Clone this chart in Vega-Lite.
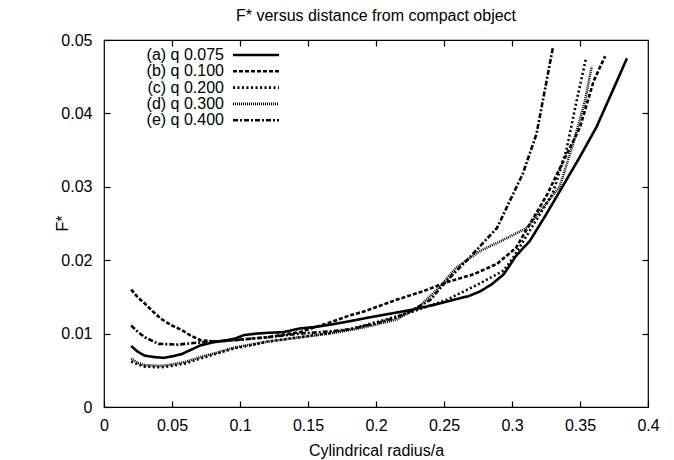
{
  "$schema": "https://vega.github.io/schema/vega-lite/v6.json",
  "autosize": "none",
  "width": 544,
  "height": 367,
  "padding": {"left": 104, "top": 40, "right": 26, "bottom": 53},
  "background": "white",
  "title": {"text": "F* versus distance from compact object", "font": "Liberation Sans", "fontSize": 16, "fontWeight": "normal", "color": "black", "offset": 8},
  "config": {
    "view": {"stroke": "black", "strokeWidth": 1.2},
    "axis": {"labelFont": "Liberation Sans", "titleFont": "Liberation Sans", "labelFontSize": 16, "titleFontSize": 16, "titleFontWeight": "normal", "labelColor": "black", "titleColor": "black", "tickColor": "black", "grid": false, "domain": false, "tickSize": -6, "tickWidth": 1.2},
    "legend": {"labelFont": "Liberation Sans", "labelFontSize": 16, "labelColor": "black"}
  },
  "data": {"values": [
    {"series": "(a) q 0.075", "x": 0.020, "y": 0.0083},
    {"series": "(a) q 0.075", "x": 0.025, "y": 0.0075},
    {"series": "(a) q 0.075", "x": 0.030, "y": 0.0070},
    {"series": "(a) q 0.075", "x": 0.037, "y": 0.0068},
    {"series": "(a) q 0.075", "x": 0.044, "y": 0.0067},
    {"series": "(a) q 0.075", "x": 0.050, "y": 0.0069},
    {"series": "(a) q 0.075", "x": 0.057, "y": 0.0072},
    {"series": "(a) q 0.075", "x": 0.064, "y": 0.0078},
    {"series": "(a) q 0.075", "x": 0.071, "y": 0.0084},
    {"series": "(a) q 0.075", "x": 0.080, "y": 0.0088},
    {"series": "(a) q 0.075", "x": 0.090, "y": 0.0091},
    {"series": "(a) q 0.075", "x": 0.096, "y": 0.0093},
    {"series": "(a) q 0.075", "x": 0.103, "y": 0.0098},
    {"series": "(a) q 0.075", "x": 0.112, "y": 0.0100},
    {"series": "(a) q 0.075", "x": 0.120, "y": 0.0101},
    {"series": "(a) q 0.075", "x": 0.132, "y": 0.0102},
    {"series": "(a) q 0.075", "x": 0.144, "y": 0.0107},
    {"series": "(a) q 0.075", "x": 0.155, "y": 0.0109},
    {"series": "(a) q 0.075", "x": 0.166, "y": 0.0112},
    {"series": "(a) q 0.075", "x": 0.181, "y": 0.0117},
    {"series": "(a) q 0.075", "x": 0.195, "y": 0.0122},
    {"series": "(a) q 0.075", "x": 0.210, "y": 0.0127},
    {"series": "(a) q 0.075", "x": 0.225, "y": 0.0132},
    {"series": "(a) q 0.075", "x": 0.240, "y": 0.0138},
    {"series": "(a) q 0.075", "x": 0.257, "y": 0.0146},
    {"series": "(a) q 0.075", "x": 0.268, "y": 0.0151},
    {"series": "(a) q 0.075", "x": 0.276, "y": 0.0157},
    {"series": "(a) q 0.075", "x": 0.285, "y": 0.0167},
    {"series": "(a) q 0.075", "x": 0.294, "y": 0.0181},
    {"series": "(a) q 0.075", "x": 0.303, "y": 0.0206},
    {"series": "(a) q 0.075", "x": 0.313, "y": 0.0226},
    {"series": "(a) q 0.075", "x": 0.325, "y": 0.0262},
    {"series": "(a) q 0.075", "x": 0.338, "y": 0.0303},
    {"series": "(a) q 0.075", "x": 0.350, "y": 0.0341},
    {"series": "(a) q 0.075", "x": 0.362, "y": 0.0381},
    {"series": "(a) q 0.075", "x": 0.375, "y": 0.0435},
    {"series": "(a) q 0.075", "x": 0.3845, "y": 0.0475},

    {"series": "(b) q 0.100", "x": 0.020, "y": 0.0160},
    {"series": "(b) q 0.100", "x": 0.025, "y": 0.0149},
    {"series": "(b) q 0.100", "x": 0.030, "y": 0.0141},
    {"series": "(b) q 0.100", "x": 0.036, "y": 0.0130},
    {"series": "(b) q 0.100", "x": 0.042, "y": 0.0120},
    {"series": "(b) q 0.100", "x": 0.050, "y": 0.0111},
    {"series": "(b) q 0.100", "x": 0.057, "y": 0.0105},
    {"series": "(b) q 0.100", "x": 0.064, "y": 0.0097},
    {"series": "(b) q 0.100", "x": 0.071, "y": 0.0091},
    {"series": "(b) q 0.100", "x": 0.083, "y": 0.0089},
    {"series": "(b) q 0.100", "x": 0.100, "y": 0.0092},
    {"series": "(b) q 0.100", "x": 0.120, "y": 0.0095},
    {"series": "(b) q 0.100", "x": 0.144, "y": 0.0102},
    {"series": "(b) q 0.100", "x": 0.166, "y": 0.0115},
    {"series": "(b) q 0.100", "x": 0.181, "y": 0.0125},
    {"series": "(b) q 0.100", "x": 0.191, "y": 0.0130},
    {"series": "(b) q 0.100", "x": 0.215, "y": 0.0146},
    {"series": "(b) q 0.100", "x": 0.235, "y": 0.0158},
    {"series": "(b) q 0.100", "x": 0.252, "y": 0.0170},
    {"series": "(b) q 0.100", "x": 0.272, "y": 0.0181},
    {"series": "(b) q 0.100", "x": 0.289, "y": 0.0195},
    {"series": "(b) q 0.100", "x": 0.303, "y": 0.0217},
    {"series": "(b) q 0.100", "x": 0.313, "y": 0.0249},
    {"series": "(b) q 0.100", "x": 0.326, "y": 0.0290},
    {"series": "(b) q 0.100", "x": 0.338, "y": 0.0336},
    {"series": "(b) q 0.100", "x": 0.350, "y": 0.0381},
    {"series": "(b) q 0.100", "x": 0.360, "y": 0.0444},
    {"series": "(b) q 0.100", "x": 0.3685, "y": 0.0478},

    {"series": "(c) q 0.200", "x": 0.020, "y": 0.0062},
    {"series": "(c) q 0.200", "x": 0.025, "y": 0.0058},
    {"series": "(c) q 0.200", "x": 0.030, "y": 0.0055},
    {"series": "(c) q 0.200", "x": 0.042, "y": 0.0054},
    {"series": "(c) q 0.200", "x": 0.050, "y": 0.0056},
    {"series": "(c) q 0.200", "x": 0.059, "y": 0.0059},
    {"series": "(c) q 0.200", "x": 0.071, "y": 0.0066},
    {"series": "(c) q 0.200", "x": 0.083, "y": 0.0073},
    {"series": "(c) q 0.200", "x": 0.096, "y": 0.0080},
    {"series": "(c) q 0.200", "x": 0.110, "y": 0.0085},
    {"series": "(c) q 0.200", "x": 0.120, "y": 0.0089},
    {"series": "(c) q 0.200", "x": 0.144, "y": 0.0095},
    {"series": "(c) q 0.200", "x": 0.166, "y": 0.0101},
    {"series": "(c) q 0.200", "x": 0.181, "y": 0.0106},
    {"series": "(c) q 0.200", "x": 0.203, "y": 0.0117},
    {"series": "(c) q 0.200", "x": 0.227, "y": 0.0130},
    {"series": "(c) q 0.200", "x": 0.252, "y": 0.0146},
    {"series": "(c) q 0.200", "x": 0.276, "y": 0.0168},
    {"series": "(c) q 0.200", "x": 0.294, "y": 0.0186},
    {"series": "(c) q 0.200", "x": 0.301, "y": 0.0204},
    {"series": "(c) q 0.200", "x": 0.313, "y": 0.0240},
    {"series": "(c) q 0.200", "x": 0.330, "y": 0.0291},
    {"series": "(c) q 0.200", "x": 0.340, "y": 0.0350},
    {"series": "(c) q 0.200", "x": 0.3475, "y": 0.0417},
    {"series": "(c) q 0.200", "x": 0.3544, "y": 0.0475},

    {"series": "(d) q 0.300", "x": 0.020, "y": 0.0066},
    {"series": "(d) q 0.300", "x": 0.025, "y": 0.0060},
    {"series": "(d) q 0.300", "x": 0.030, "y": 0.0057},
    {"series": "(d) q 0.300", "x": 0.042, "y": 0.0056},
    {"series": "(d) q 0.300", "x": 0.050, "y": 0.0058},
    {"series": "(d) q 0.300", "x": 0.059, "y": 0.0061},
    {"series": "(d) q 0.300", "x": 0.071, "y": 0.0068},
    {"series": "(d) q 0.300", "x": 0.083, "y": 0.0074},
    {"series": "(d) q 0.300", "x": 0.096, "y": 0.0081},
    {"series": "(d) q 0.300", "x": 0.120, "y": 0.0089},
    {"series": "(d) q 0.300", "x": 0.144, "y": 0.0095},
    {"series": "(d) q 0.300", "x": 0.166, "y": 0.0100},
    {"series": "(d) q 0.300", "x": 0.190, "y": 0.0108},
    {"series": "(d) q 0.300", "x": 0.215, "y": 0.0119},
    {"series": "(d) q 0.300", "x": 0.232, "y": 0.0137},
    {"series": "(d) q 0.300", "x": 0.247, "y": 0.0164},
    {"series": "(d) q 0.300", "x": 0.259, "y": 0.0190},
    {"series": "(d) q 0.300", "x": 0.277, "y": 0.0213},
    {"series": "(d) q 0.300", "x": 0.294, "y": 0.0228},
    {"series": "(d) q 0.300", "x": 0.311, "y": 0.0244},
    {"series": "(d) q 0.300", "x": 0.322, "y": 0.0270},
    {"series": "(d) q 0.300", "x": 0.335, "y": 0.0300},
    {"series": "(d) q 0.300", "x": 0.345, "y": 0.0359},
    {"series": "(d) q 0.300", "x": 0.3537, "y": 0.0417},
    {"series": "(d) q 0.300", "x": 0.3586, "y": 0.0464},

    {"series": "(e) q 0.400", "x": 0.020, "y": 0.0111},
    {"series": "(e) q 0.400", "x": 0.025, "y": 0.0102},
    {"series": "(e) q 0.400", "x": 0.030, "y": 0.0095},
    {"series": "(e) q 0.400", "x": 0.040, "y": 0.0086},
    {"series": "(e) q 0.400", "x": 0.054, "y": 0.0085},
    {"series": "(e) q 0.400", "x": 0.071, "y": 0.0088},
    {"series": "(e) q 0.400", "x": 0.096, "y": 0.0091},
    {"series": "(e) q 0.400", "x": 0.120, "y": 0.0095},
    {"series": "(e) q 0.400", "x": 0.144, "y": 0.0100},
    {"series": "(e) q 0.400", "x": 0.166, "y": 0.0103},
    {"series": "(e) q 0.400", "x": 0.181, "y": 0.0106},
    {"series": "(e) q 0.400", "x": 0.200, "y": 0.0114},
    {"series": "(e) q 0.400", "x": 0.215, "y": 0.0122},
    {"series": "(e) q 0.400", "x": 0.227, "y": 0.0132},
    {"series": "(e) q 0.400", "x": 0.240, "y": 0.0146},
    {"series": "(e) q 0.400", "x": 0.252, "y": 0.0172},
    {"series": "(e) q 0.400", "x": 0.269, "y": 0.0204},
    {"series": "(e) q 0.400", "x": 0.289, "y": 0.0244},
    {"series": "(e) q 0.400", "x": 0.300, "y": 0.0287},
    {"series": "(e) q 0.400", "x": 0.308, "y": 0.0318},
    {"series": "(e) q 0.400", "x": 0.318, "y": 0.0372},
    {"series": "(e) q 0.400", "x": 0.325, "y": 0.0440},
    {"series": "(e) q 0.400", "x": 0.330, "y": 0.0489}
  ]},
  "layer": [
    {
      "mark": {"type": "line", "color": "black"},
      "encoding": {
        "x": {"field": "x", "type": "quantitative", "scale": {"domain": [0, 0.4], "nice": false}, "axis": {"title": "Cylindrical radius/a", "values": [0, 0.05, 0.1, 0.15, 0.2, 0.25, 0.3, 0.35, 0.4], "format": "~g", "labelPadding": 16, "labelFlush": false, "titleY": 43, "titleBaseline": "middle"}},
        "y": {"field": "y", "type": "quantitative", "scale": {"domain": [0, 0.05], "nice": false, "zero": false}, "axis": {"title": "F*", "values": [0, 0.01, 0.02, 0.03, 0.04, 0.05], "labelPadding": 18, "labelFlush": false, "format": "~g", "titleX": -42, "titleY": 183, "titleBaseline": "middle"}},
        "strokeDash": {"field": "series", "type": "nominal", "scale": {"domain": ["(a) q 0.075", "(b) q 0.100", "(c) q 0.200", "(d) q 0.300", "(e) q 0.400"], "range": [[1, 0], [4, 2], [2, 2.5], [1, 1], [5, 2, 2, 2]]}, "legend": {"title": null, "orient": "none", "legendX": 144, "legendY": 7, "padding": 0, "symbolType": "M-4.6,0H4.6", "symbolSize": 100, "symbolStrokeColor": "black", "labelAlign": "right", "labelOffset": -40, "rowPadding": 0.3}},
        "strokeWidth": {"field": "series", "type": "nominal", "scale": {"domain": ["(a) q 0.075", "(b) q 0.100", "(c) q 0.200", "(d) q 0.300", "(e) q 0.400"], "range": [2.6, 2.6, 2, 1.2, 2]}, "legend": {"title": null, "orient": "none", "legendX": 144, "legendY": 7, "padding": 0, "symbolType": "M-4.6,0H4.6", "symbolSize": 100, "symbolStrokeColor": "black", "labelAlign": "right", "labelOffset": -40, "rowPadding": 0.3}}
      }
    },
    {
      "mark": {"type": "point", "opacity": 0},
      "encoding": {
        "x": {"field": "x", "type": "quantitative", "axis": {"orient": "top", "labels": false, "title": null, "values": [0.05, 0.1, 0.15, 0.2, 0.25, 0.3, 0.35]}},
        "y": {"field": "y", "type": "quantitative", "axis": {"orient": "right", "labels": false, "title": null, "values": [0.01, 0.02, 0.03, 0.04]}}
      }
    }
  ],
  "resolve": {"axis": {"x": "independent", "y": "independent"}}
}
